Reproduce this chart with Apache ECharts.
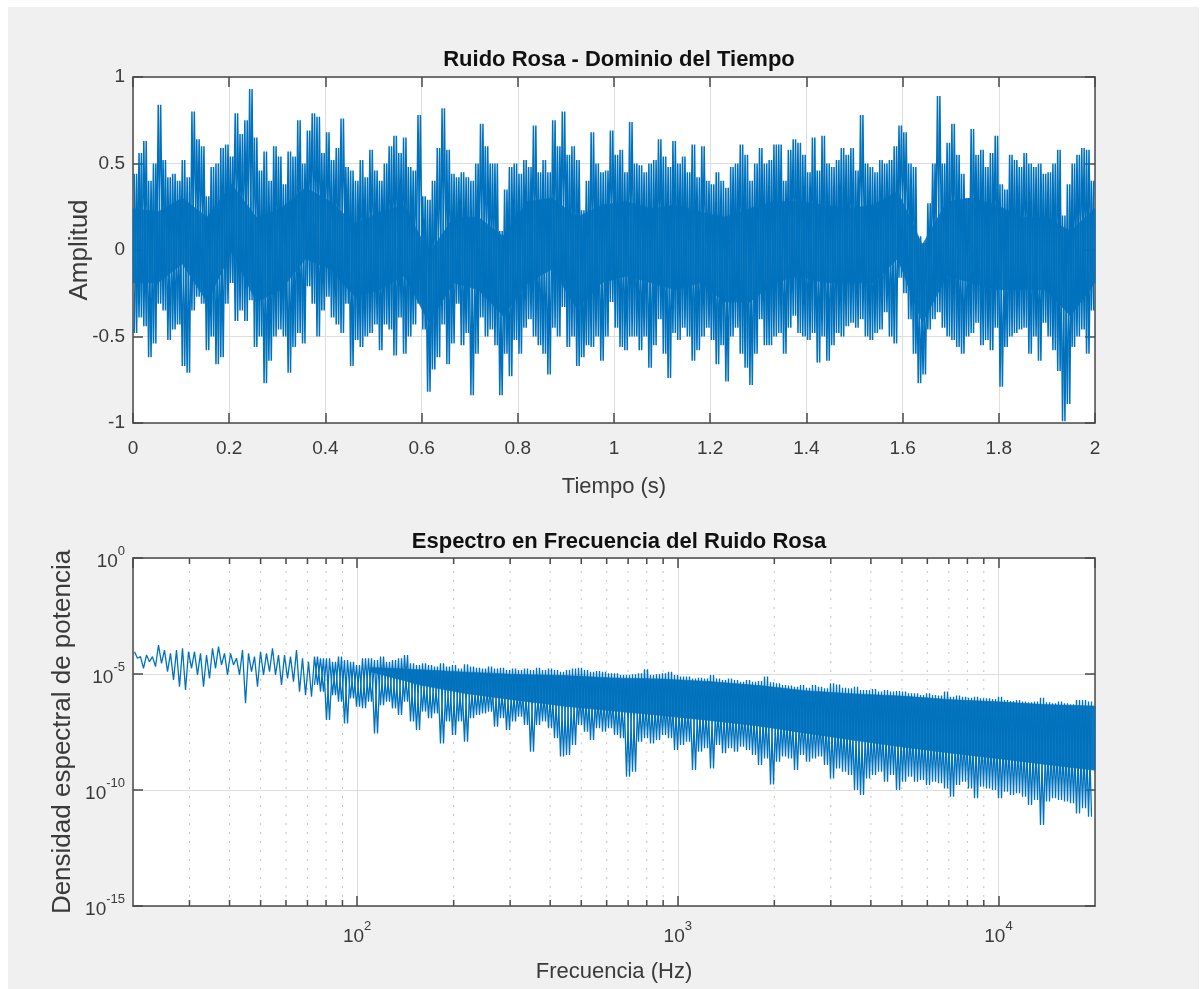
<!DOCTYPE html>
<html>
<head>
<meta charset="utf-8">
<script src="https://cdn.jsdelivr.net/npm/echarts@6/dist/echarts.min.js"></script>
<style>
html,body{margin:0;padding:0;background:#fff;width:1202px;height:989px;overflow:hidden;}
#bg{position:absolute;left:8px;top:7px;width:1191px;height:982px;background:#f0f0f0;}
#chart{position:absolute;left:0;top:0;width:1202px;height:989px;}
</style>
</head>
<body>
<div id="bg"></div>
<div id="chart"></div>
<script>
// ---------- Datos: Ruido Rosa - Dominio del Tiempo ----------
// Máximo y mínimo de la señal en cada intervalo de 0.01 s
const pasoTiempo = 0.01;
const tiempoMax = [
 0.44,0.56,0.63,0.40,0.50,0.84,0.52,0.42,0.44,0.40,
 0.52,0.42,0.80,0.64,0.60,0.31,0.48,0.50,0.59,0.61,
 0.54,0.79,0.67,0.75,0.93,0.65,0.46,0.57,0.40,0.60,
 0.54,0.38,0.57,0.54,0.75,0.50,0.69,0.79,0.77,0.56,
 0.68,0.52,0.59,0.76,0.48,0.46,0.40,0.52,0.42,0.58,
 0.46,0.40,0.50,0.60,0.66,0.56,0.65,0.48,0.46,0.78,
 0.31,0.29,0.40,0.59,0.82,0.58,0.44,0.42,
 0.45,0.42,0.40,0.50,0.73,0.60,0.50,0.50,0.11,0.35,
 0.48,0.50,0.44,0.52,0.48,0.72,0.45,0.52,0.45,0.75,
 0.60,0.80,0.55,0.60,0.52,0.23,0.40,0.68,0.50,0.45,
 0.46,0.69,0.55,0.58,0.45,0.74,0.50,0.49,0.45,0.50,
 0.52,0.64,0.54,0.48,0.63,0.50,0.54,0.45,0.61,0.42,
 0.60,0.40,0.38,0.45,0.40,0.36,0.48,0.50,0.61,0.55,
 0.40,0.50,0.59,0.50,0.52,0.61,
 0.61,0.40,0.58,0.64,0.62,0.55,0.45,0.65,0.46,0.66,
 0.50,0.48,0.52,0.59,0.55,0.59,0.46,0.78,0.50,0.48,
 0.45,0.52,0.50,0.52,0.60,0.72,0.68,0.50,0.48,0.08,
 0.04,0.27,0.50,0.89,0.50,0.62,0.73,0.55,0.44,0.30,
 0.70,0.55,0.58,0.48,0.56,0.66,0.38,0.35,0.55,0.52,
 0.48,0.56,0.50,0.48,0.50,0.44,0.45,0.50,0.58,0.20,
 0.38,0.50,0.55,0.59,0.58,0.40
];
const tiempoMin = [
 -0.48,-0.39,-0.44,-0.62,-0.54,-0.31,-0.35,-0.52,-0.46,-0.43,
 -0.67,-0.71,-0.35,-0.27,-0.31,-0.58,-0.50,-0.66,-0.62,-0.31,
 -0.19,-0.41,-0.35,-0.41,-0.29,-0.56,-0.50,-0.77,-0.64,-0.50,
 -0.46,-0.50,-0.71,-0.56,-0.48,-0.54,-0.21,-0.31,-0.50,-0.35,
 -0.27,-0.39,-0.43,-0.48,-0.31,-0.67,-0.52,-0.56,-0.50,-0.48,
 -0.43,-0.58,-0.43,-0.46,-0.61,-0.39,-0.60,-0.50,-0.43,-0.31,
 -0.46,-0.82,-0.69,-0.62,-0.43,-0.66,-0.54,-0.31,
 -0.55,-0.48,-0.84,-0.60,-0.39,-0.50,-0.46,-0.55,-0.84,-0.60,
 -0.73,-0.52,-0.60,-0.45,-0.40,-0.50,-0.55,-0.60,-0.72,-0.45,
 -0.50,-0.33,-0.56,-0.50,-0.67,-0.62,-0.55,-0.56,-0.50,-0.64,
 -0.50,-0.30,-0.45,-0.56,-0.58,-0.50,-0.50,-0.58,-0.50,-0.68,
 -0.55,-0.40,-0.60,-0.74,-0.48,-0.52,-0.45,-0.50,-0.64,-0.58,
 -0.50,-0.45,-0.52,-0.66,-0.55,-0.76,-0.50,-0.45,-0.60,-0.68,
 -0.78,-0.60,-0.40,-0.55,-0.55,-0.50,
 -0.48,-0.60,-0.45,-0.38,-0.48,-0.50,-0.52,-0.48,-0.65,-0.50,
 -0.64,-0.55,-0.48,-0.50,-0.44,-0.42,-0.45,-0.40,-0.50,-0.52,
 -0.48,-0.46,-0.36,-0.50,-0.54,-0.16,-0.25,-0.40,-0.60,-0.77,
 -0.72,-0.46,-0.40,-0.36,-0.45,-0.50,-0.52,-0.56,-0.60,-0.50,
 -0.48,-0.42,-0.55,-0.52,-0.58,-0.45,-0.79,-0.56,-0.50,-0.48,
 -0.46,-0.45,-0.60,-0.50,-0.64,-0.42,-0.50,-0.58,-0.70,-0.99,
 -0.89,-0.56,-0.50,-0.46,-0.60,-0.35
];
// Núcleo denso de la señal (zona rellena), 40 puntos repartidos de 0 a 2 s
const nucleoSup = [
 0.24,0.22,0.30,0.19,0.38,0.19,0.24,0.36,0.28,0.15,
 0.22,0.26,-0.02,0.19,0.19,0.08,0.28,0.30,0.19,0.26,
 0.28,0.24,0.26,0.22,0.19,0.24,0.28,0.28,0.26,0.24,
 0.26,0.34,0.03,0.28,0.30,0.26,0.19,0.19,0.11,0.24
];
const nucleoInf = [
 -0.19,-0.19,-0.08,-0.30,-0.01,-0.30,-0.23,-0.05,-0.11,-0.27,
 -0.23,-0.15,-0.42,-0.19,-0.23,-0.38,-0.19,-0.11,-0.34,-0.19,
 -0.15,-0.19,-0.23,-0.19,-0.30,-0.30,-0.19,-0.15,-0.19,-0.19,
 -0.19,-0.05,-0.42,-0.15,-0.19,-0.23,-0.23,-0.23,-0.38,-0.19
];

// ---------- Datos: Espectro en Frecuencia ----------
const frecMin = 20, frecMax = 20000;
// Máximo y mínimo por banda logarítmica (exponente log10 de la densidad)
const espectroMaxExp = [
 -4.04,-4.25,-4.18,-4.25,-3.75,-3.97,-4.11,-3.97,-3.89,-4.04,
 -4.04,-4.11,-4.18,-3.89,-3.82,-4.11,-4.11,-4.32,-3.97,-4.11,
 -4.25,-4.04,-4.11,-3.89,-4.18,-4.18,-4.25,-3.97,-4.32,-4.47,
 -4.25,-4.32,-4.32,-4.47,-4.25,-4.40,-4.47,-4.61,-4.32,-4.32,
 -4.40,-4.25,-4.47,-4.40,-4.32,-4.18,-4.54,-4.61,-4.54,-4.61,
 -4.68,-4.54,-4.68,-4.61,-4.76,
 -4.58,-4.68,-4.73,-4.76,-4.68,-4.76,-4.73,-4.83,-4.76,-4.83,
 -4.76,-4.83,-4.73,-4.83,-4.76,-4.83,-4.90,-4.83,-4.76,-4.73,
 -4.83,-4.90,-4.87,-4.90,-4.97,-4.97,-5.04,-5.04,-5.01,-4.97,
 -4.80,-5.04,-5.01,-4.97,-4.90,-5.04,-5.11,-5.11,-5.19,-5.16,
 -5.19,-5.04,-5.19,-5.26,-5.19,-5.26,-5.33,-5.26,-5.33,-5.30,
 -5.11,-5.36,-5.40,-5.47,
 -5.50,-5.55,-5.47,-5.59,-5.47,-5.55,-5.62,-5.40,-5.45,-5.59,
 -5.62,-5.55,-5.69,-5.69,-5.65,-5.76,-5.69,-5.76,-5.73,-5.76,
 -5.83,-5.83,-5.91,-5.83,-5.91,-5.93,-5.76,-5.98,-5.93,-5.98,
 -6.02,-5.98,-6.05,-6.05,-6.08,-5.98,-6.12,-6.16,-6.12,-6.19,
 -6.22,-6.19,-6.02,-6.22,-6.26,-6.19,-6.26,-6.31,-6.12,-6.12,
 -6.19
];
const espectroMinExp = [
 -4.32,-4.76,-4.47,-4.68,-4.54,-4.90,-5.26,-5.55,-5.69,-4.76,
 -5.04,-5.55,-5.19,-4.76,-4.61,-5.04,-4.61,-5.04,-6.26,-4.90,
 -5.55,-5.04,-4.90,-5.04,-5.47,-5.19,-5.33,-5.76,-5.91,-5.98,
 -5.47,-5.76,-6.98,-5.91,-6.19,-7.13,-6.05,-6.41,-6.48,-6.19,
 -7.56,-6.34,-6.19,-6.48,-6.77,-6.19,-7.05,-7.41,-6.62,-6.91,
 -6.70,-7.99,-7.05,-7.63,-7.05,
 -7.92,-6.91,-6.77,-6.70,-6.62,-7.27,-6.91,-7.41,-7.05,-6.84,
 -7.20,-8.35,-7.20,-7.05,-7.34,-7.77,-8.56,-8.49,-8.06,-7.20,
 -7.49,-7.84,-7.34,-7.49,-7.34,-7.63,-7.77,-9.43,-9.21,-7.92,
 -7.77,-7.99,-7.84,-7.63,-7.77,-8.28,-8.06,-7.92,-9.14,-8.35,
 -8.20,-9.07,-8.06,-8.42,-8.20,-8.35,-8.13,-8.28,-8.49,-8.92,
 -8.64,-9.76,-8.78,-8.56,
 -8.64,-9.14,-8.49,-8.78,-8.64,-8.56,-8.92,-9.50,-9.07,-9.21,
 -9.35,-10.00,-10.22,-9.50,-9.35,-9.21,-9.64,-9.35,-10.00,-9.64,
 -9.43,-9.64,-9.57,-9.78,-9.64,-9.71,-9.93,-10.29,-9.78,-9.64,
 -9.93,-10.36,-9.86,-9.93,-10.00,-10.36,-10.07,-10.22,-10.14,-10.29,
 -10.65,-10.43,-11.51,-10.50,-10.36,-10.43,-10.50,-10.57,-11.01,-10.79,
 -11.15
];
// Núcleo denso del espectro (exponentes log10)
const nucleoFrec = [110,160,220,320,450,630,900,1250,1800,2500,3500,5000,7000,10000,14000,20000];
const nucleoEspSupExp = [-4.72,-4.82,-4.92,-5.02,-5.07,-5.17,-5.22,-5.32,-5.50,-5.72,-5.85,-5.95,-6.10,-6.20,-6.32,-6.38];
const nucleoEspInfExp = [-4.90,-5.50,-5.85,-6.15,-6.40,-6.60,-6.80,-7.00,-7.25,-7.55,-7.85,-8.15,-8.40,-8.65,-8.90,-9.15];
const inicioDenso = 70; // Hz: a partir de aquí el trazo del espectro se vuelve denso
// Marcas menores del eje logarítmico de frecuencia
const frecMenores = [30,40,50,60,70,80,90,200,300,400,500,600,700,800,900,2000,3000,4000,5000,6000,7000,8000,9000];

// ---------- Construcción de series ----------
// Dos recorridos del mismo máximo/mínimo por intervalo (orden alterno)
const serieTiempoA = [], serieTiempoB = [];
for (let k = 0; k < tiempoMax.length; k++) {
  const xa = k * pasoTiempo + pasoTiempo * 0.25, xb = k * pasoTiempo + pasoTiempo * 0.75;
  serieTiempoA.push([xa, tiempoMax[k]], [xb, tiempoMin[k]]);
  serieTiempoB.push([xa, tiempoMin[k]], [xb, tiempoMax[k]]);
}
const tFin = tiempoMax.length * pasoTiempo;
const pasoNucleo = tFin / (nucleoSup.length - 1);
const bandaTiempo = [];
for (let j = 0; j < nucleoSup.length - 1; j++) {
  bandaTiempo.push([j * pasoNucleo, nucleoInf[j], nucleoSup[j],
                    (j + 1) * pasoNucleo, nucleoInf[j + 1], nucleoSup[j + 1]]);
}
const nBandas = espectroMaxExp.length;
const decadas = Math.log10(frecMax / frecMin);
const bandasPorDecada = 160.33 / decadas;
const fBanda = u => frecMin * Math.pow(10, u / bandasPorDecada);
const serieEspectroA = [], serieEspectroB = [];
for (let i = 0; i < nBandas; i++) {
  const hi = Math.pow(10, espectroMaxExp[i]), lo = Math.pow(10, espectroMinExp[i]);
  serieEspectroA.push([fBanda(i + 0.25), hi], [fBanda(i + 0.75), lo]);
  if (fBanda(i) >= inicioDenso) serieEspectroB.push([fBanda(i + 0.25), lo], [fBanda(i + 0.75), hi]);
}
const bandaEspectro = [];
for (let j = 0; j < nucleoFrec.length - 1; j++) {
  bandaEspectro.push([nucleoFrec[j], Math.pow(10, nucleoEspInfExp[j]), Math.pow(10, nucleoEspSupExp[j]),
                      nucleoFrec[j + 1], Math.pow(10, nucleoEspInfExp[j + 1]), Math.pow(10, nucleoEspSupExp[j + 1])]);
}

const FONT = '"Liberation Sans", Arial, Helvetica, sans-serif';
const AX = '#4a4a4a';
const TXT = '#3a3a3a';
const GRID = '#dedede';
const BLUE = '#0072BD';

function powLabel(v) {
  const e = Math.log10(v);
  const r = Math.round(e);
  if (Math.abs(e - r) > 1e-6) return '';
  return '{b|10}{s|' + r + '}';
}
const richPow = {
  b: {fontSize: 19, fontFamily: FONT, color: TXT, lineHeight: 26, verticalAlign: 'bottom'},
  s: {fontSize: 13, fontFamily: FONT, color: TXT, lineHeight: 26, verticalAlign: 'top'}
};

const axLine = {show: true, onZero: false, lineStyle: {color: AX, width: 1.5}};
const axTick = {show: true, inside: true, length: 10, lineStyle: {color: AX, width: 1.5}};

function makeBandRender(opacity) {
  return function (params, api) {
    const p1 = api.coord([api.value(0), api.value(2)]);
    const p2 = api.coord([api.value(3), api.value(5)]);
    const p3 = api.coord([api.value(3), api.value(4)]);
    const p4 = api.coord([api.value(0), api.value(1)]);
    return {type: 'polygon', shape: {points: [p1, p2, p3, p4]},
            style: {fill: BLUE, stroke: BLUE, lineWidth: 0.6, opacity: opacity}};
  };
}
function lineSeries(data, xi, yi, w) {
  return {type: 'line', xAxisIndex: xi, yAxisIndex: yi, data: data, showSymbol: false, symbol: 'none',
          sampling: null, z: 3, lineStyle: {color: BLUE, width: w}, silent: true};
}

const chart = echarts.init(document.getElementById('chart'), null, {renderer: 'canvas'});
chart.setOption({
  animation: false,
  backgroundColor: 'transparent',
  title: [
    {text: 'Ruido Rosa - Dominio del Tiempo', left: 614, top: 44, textAlign: 'center',
     textStyle: {fontFamily: FONT, fontSize: 22, fontWeight: 'bold', color: '#111'}},
    {text: 'Espectro en Frecuencia del Ruido Rosa', left: 614, top: 526, textAlign: 'center',
     textStyle: {fontFamily: FONT, fontSize: 22, fontWeight: 'bold', color: '#111'}}
  ],
  grid: [
    {left: 133, top: 77, width: 962, height: 346, show: true, backgroundColor: '#fff', borderWidth: 0},
    {left: 133, top: 558, width: 962, height: 348, show: true, backgroundColor: '#fff', borderWidth: 0}
  ],
  xAxis: [
    {gridIndex: 0, type: 'value', min: 0, max: 2, interval: 0.2, position: 'bottom',
     name: 'Tiempo (s)', nameLocation: 'middle', nameGap: 53, nameMoveOverlap: false,
     nameTextStyle: {fontFamily: FONT, fontSize: 22, color: TXT},
     axisLine: axLine, axisTick: axTick,
     axisLabel: {margin: 16, fontSize: 19, fontFamily: FONT, color: TXT},
     splitLine: {show: true, lineStyle: {color: GRID, width: 1}}},
    {gridIndex: 0, type: 'value', min: 0, max: 2, interval: 0.2, position: 'top',
     axisLine: axLine, axisTick: axTick, axisLabel: {show: false}, splitLine: {show: false}},
    {gridIndex: 1, type: 'log', logBase: 10, min: frecMin, max: frecMax, position: 'bottom',
     name: 'Frecuencia (Hz)', nameLocation: 'middle', nameGap: 55, nameMoveOverlap: false,
     nameTextStyle: {fontFamily: FONT, fontSize: 22, color: TXT},
     axisLine: axLine, axisTick: axTick,
     axisLabel: {margin: 14, formatter: powLabel, rich: richPow, showMinLabel: false, showMaxLabel: false},
     splitLine: {show: true, lineStyle: {color: GRID, width: 1}}},
    {gridIndex: 1, type: 'log', logBase: 10, min: frecMin, max: frecMax, position: 'top',
     axisLine: axLine, axisTick: axTick, axisLabel: {show: false}, splitLine: {show: false}}
  ],
  yAxis: [
    {gridIndex: 0, type: 'value', min: -1, max: 1, interval: 0.5, position: 'left',
     name: 'Amplitud', nameLocation: 'middle', nameGap: 40, nameMoveOverlap: false,
     nameTextStyle: {fontFamily: FONT, fontSize: 26, color: TXT},
     axisLine: axLine, axisTick: axTick,
     axisLabel: {margin: 8, fontSize: 19, fontFamily: FONT, color: TXT},
     splitLine: {show: true, lineStyle: {color: GRID, width: 1}}},
    {gridIndex: 0, type: 'value', min: -1, max: 1, interval: 0.5, position: 'right',
     axisLine: axLine, axisTick: axTick, axisLabel: {show: false}, splitLine: {show: false}},
    {gridIndex: 1, type: 'log', logBase: 10, min: 1e-15, max: 1, interval: 5, position: 'left',
     name: 'Densidad espectral de potencia', nameLocation: 'middle', nameGap: 57, nameMoveOverlap: false,
     nameTextStyle: {fontFamily: FONT, fontSize: 26, color: TXT},
     axisLine: axLine, axisTick: axTick,
     axisLabel: {margin: 8, formatter: powLabel, rich: richPow},
     splitLine: {show: true, lineStyle: {color: GRID, width: 1}}},
    {gridIndex: 1, type: 'log', logBase: 10, min: 1e-15, max: 1, interval: 5, position: 'right',
     axisLine: axLine, axisTick: axTick, axisLabel: {show: false}, splitLine: {show: false}}
  ],
  series: [
    {type: 'custom', xAxisIndex: 0, yAxisIndex: 0, z: 2, silent: true,
     data: bandaTiempo, renderItem: makeBandRender(0.9)},
    lineSeries(serieTiempoA, 0, 0, 1.5),
    lineSeries(serieTiempoB, 0, 0, 1.5),
    {type: 'custom', xAxisIndex: 2, yAxisIndex: 2, z: 1, silent: true,
     data: frecMenores.map(f => [f, 1e-15]),
     renderItem: function (params, api) {
       const f = api.value(0);
       const b = api.coord([f, 1e-15]);
       const t = api.coord([f, 1]);
       return {type: 'group', children: [
         {type: 'line', shape: {x1: b[0], y1: b[1], x2: t[0], y2: t[1]},
          style: {stroke: '#c4c4c4', lineWidth: 1, lineDash: [2, 7]}},
         {type: 'line', shape: {x1: b[0], y1: b[1], x2: b[0], y2: b[1] - 6},
          style: {stroke: AX, lineWidth: 1.5}},
         {type: 'line', shape: {x1: t[0], y1: t[1], x2: t[0], y2: t[1] + 6},
          style: {stroke: AX, lineWidth: 1.5}}
       ]};
     }},
    {type: 'custom', xAxisIndex: 2, yAxisIndex: 2, z: 2, silent: true,
     data: bandaEspectro, renderItem: makeBandRender(0.95)},
    lineSeries(serieEspectroA, 2, 2, 1.3),
    lineSeries(serieEspectroB, 2, 2, 1.3)
  ]
});
</script>
</body>
</html>
